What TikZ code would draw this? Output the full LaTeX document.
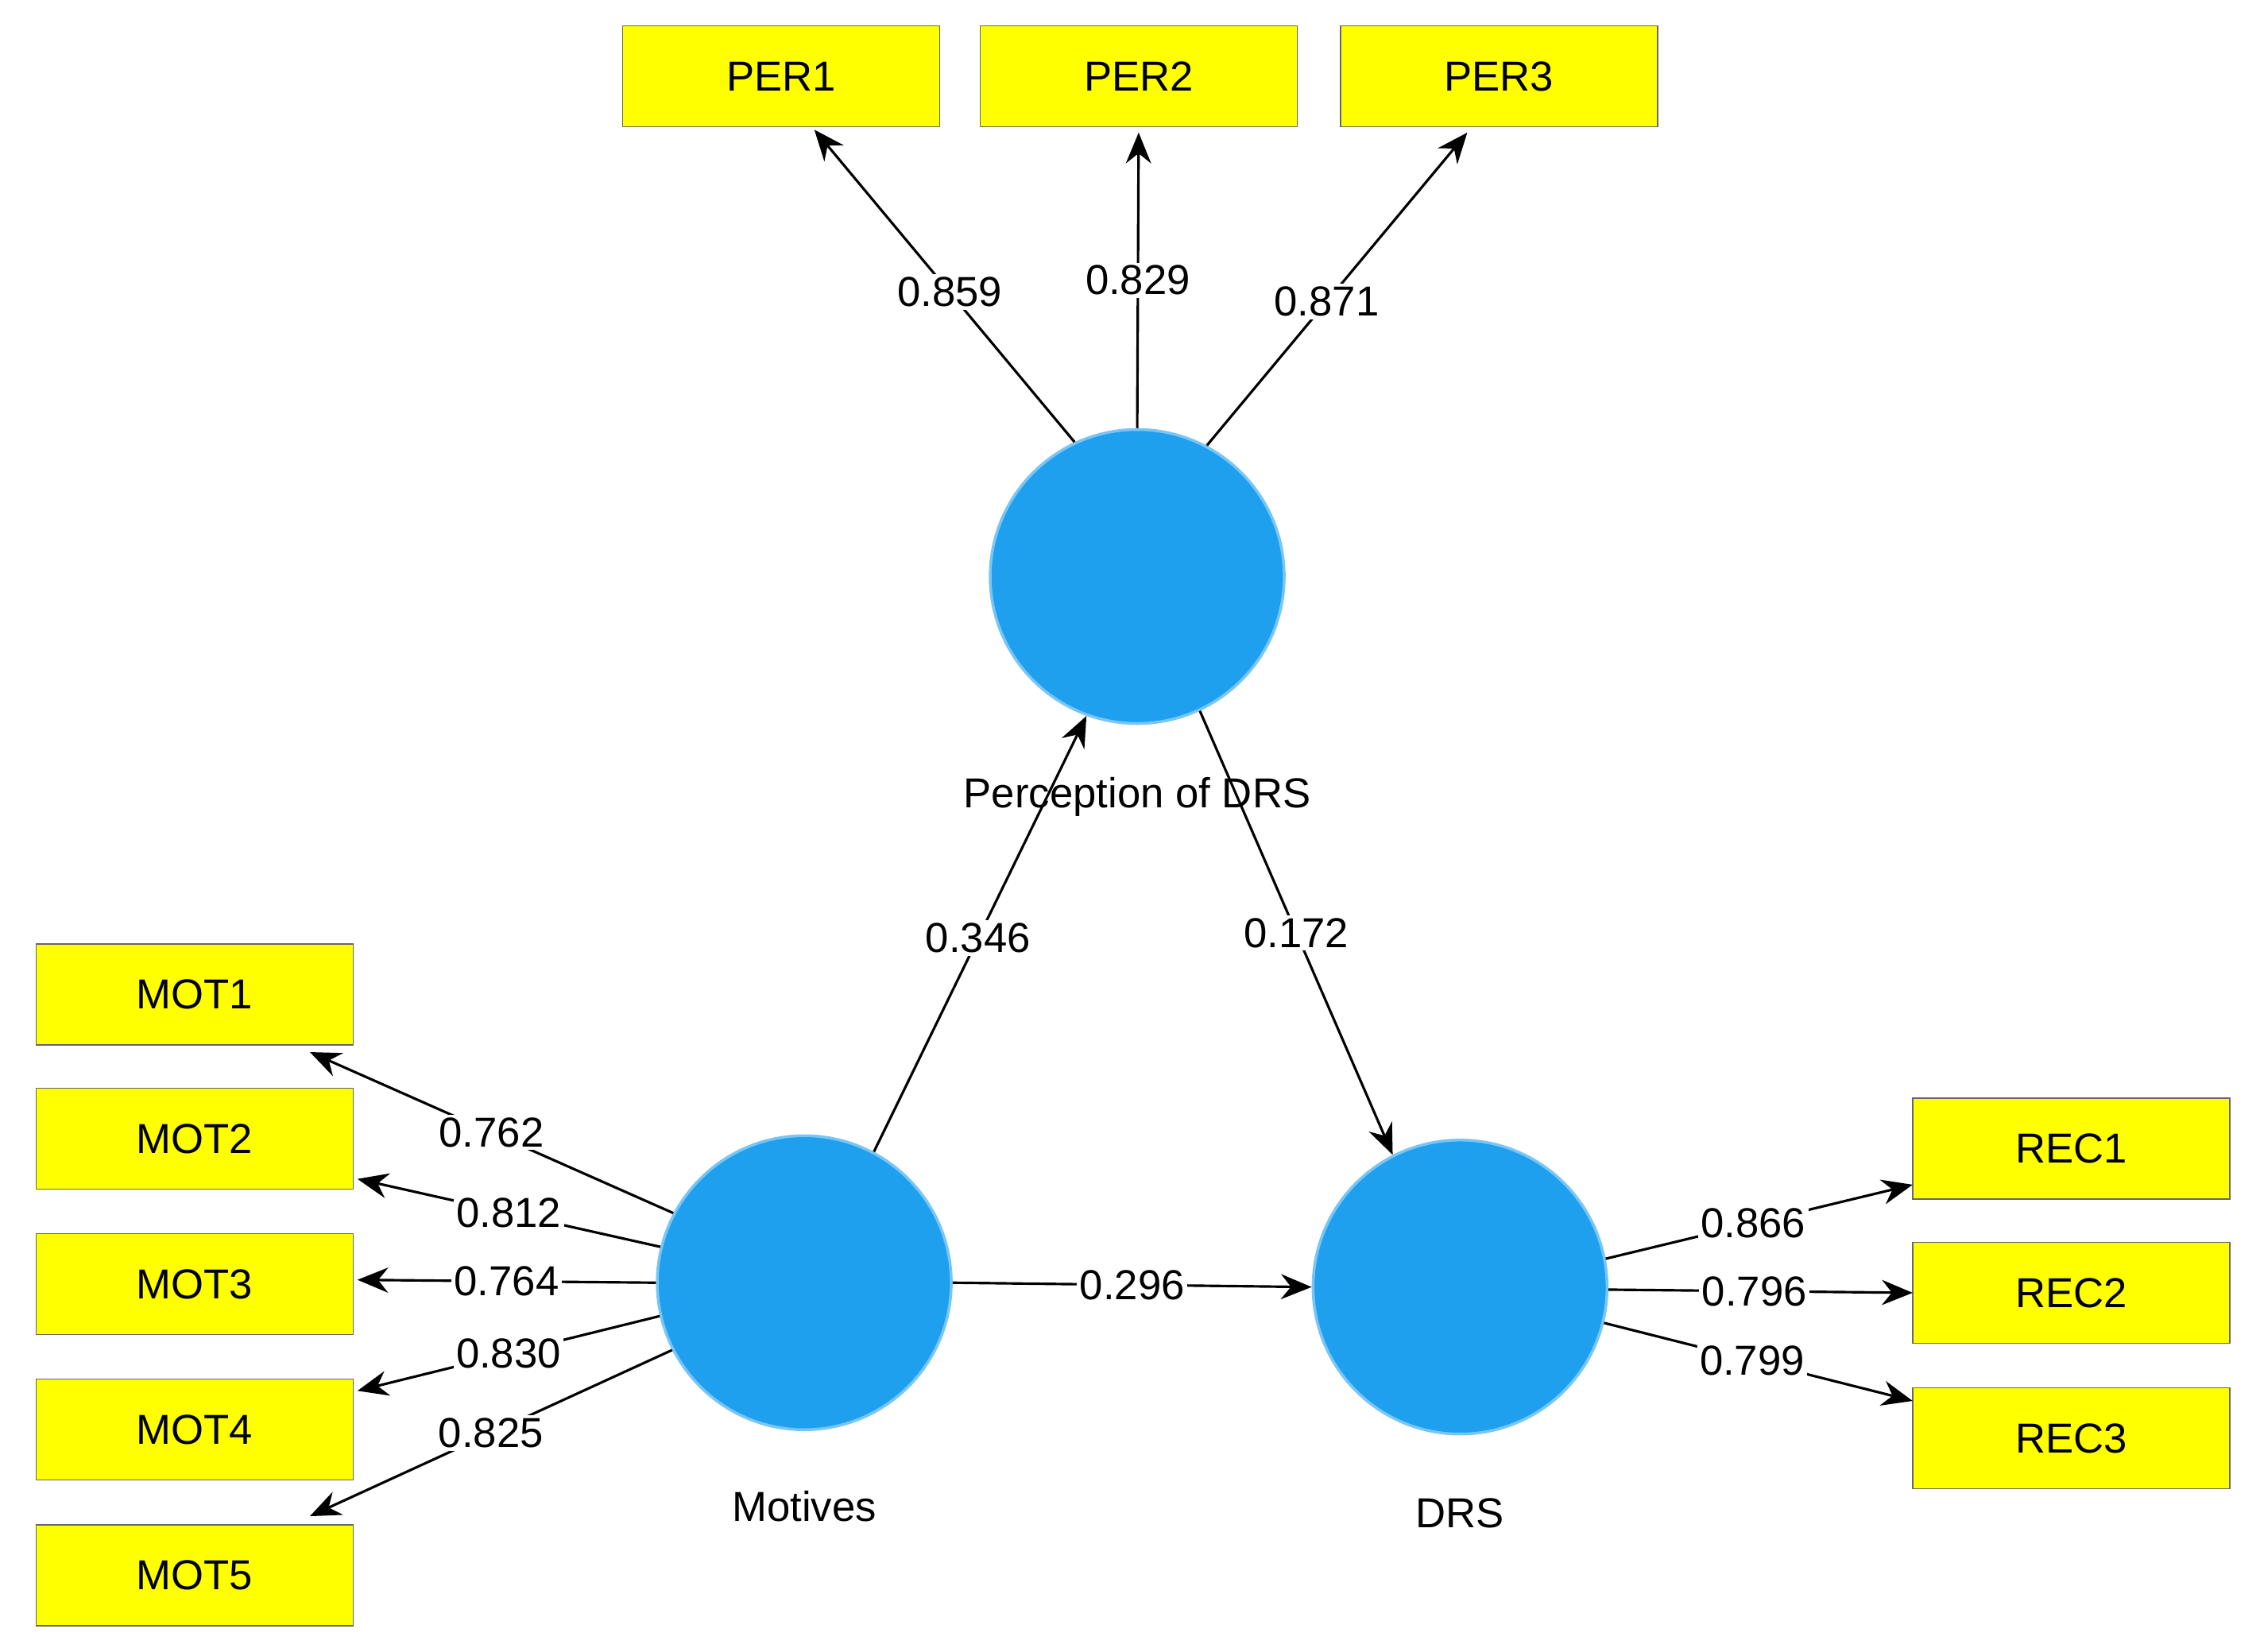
\documentclass[tikz,border=0pt]{standalone}
\usepackage{fontspec}
\setmainfont{Liberation Sans}
\usetikzlibrary{arrows.meta}
\definecolor{lv}{HTML}{1FA0EE}
\definecolor{yb}{HTML}{FFFF00}
\begin{document}
\begin{tikzpicture}[x=0.01814cm,y=-0.01814cm,
  ind/.style={draw=gray!80!black,fill=yb,minimum width=220*0.01814cm,minimum height=70*0.01814cm,inner sep=0pt,font=\fontsize{15}{15}\selectfont},
  lat/.style={circle,draw=lv!60!white,line width=1pt,fill=lv,minimum size=204*0.01814cm,inner sep=0pt},
  lab/.style={font=\fontsize{15}{15}\selectfont},
  w/.style={fill=white,inner sep=1pt,font=\fontsize{15}{15}\selectfont},
  arr/.style={-{Stealth[length=11pt,width=9pt]},line width=0.9pt}]
\useasboundingbox (0,0) rectangle (1568,1146);
\node[ind] (per1) at (542,53) {PER1};
\node[ind] (per2) at (790,53) {PER2};
\node[ind] (per3) at (1040,53) {PER3};
\foreach \i/\y in {1/690,2/790,3/891,4/992,5/1093}{\node[ind] (mot\i) at (135,\y) {MOT\i};}
\foreach \i/\y in {1/797,2/897,3/998}{\node[ind] (rec\i) at (1437,\y) {REC\i};}
\node[lat] (per) at (789,400) {};
\node[lat] (mot) at (558,890) {};
\node[lat] (drs) at (1013,893) {};
\node[lab] at (789,553) {Perception of DRS};
\node[lab] at (558,1045) {Motives};
\node[lab] at (1013,1050) {DRS};
\coordinate (p1) at (565,90); \coordinate (p2) at (790,92); \coordinate (p3) at (1018,92);
\draw[arr] (per.115) -- (p1) node[w,pos=0.48] {0.859};
\draw[arr] (per.90) -- (p2) node[w,pos=0.5] {0.829};
\draw[arr] (per.62) -- (p3) node[w,pos=0.46] {0.871};
\draw[arr] (mot.62) -- (per.250) node[w,pos=0.49] {0.346};
\draw[arr] (per.295) -- (drs.117) node[w,pos=0.5] {0.172};
\draw[arr] (mot.east) -- (drs.west) node[w,pos=0.5] {0.296};
\coordinate (m1) at (215,730); \coordinate (m5) at (215,1052);
\coordinate (m2) at (248,818); \coordinate (m3) at (248,888); \coordinate (m4) at (248,965);
\draw[arr] (mot.152) -- (m1) node[w,pos=0.5] {0.762};
\draw[arr] (mot.166) -- (m2) node[w,pos=0.5] {0.812};
\draw[arr] (mot.180) -- (m3) node[w,pos=0.5] {0.764};
\draw[arr] (mot.193) -- (m4) node[w,pos=0.5] {0.830};
\draw[arr] (mot.207) -- (m5) node[w,pos=0.5] {0.825};
\coordinate (r1) at (1327,822); \coordinate (r2) at (1327,897); \coordinate (r3) at (1327,972);
\draw[arr] (drs.11) -- (r1) node[w,pos=0.48] {0.866};
\draw[arr] (drs.-1) -- (r2) node[w,pos=0.48] {0.796};
\draw[arr] (drs.-14) -- (r3) node[w,pos=0.48] {0.799};
\end{tikzpicture}
\end{document}
